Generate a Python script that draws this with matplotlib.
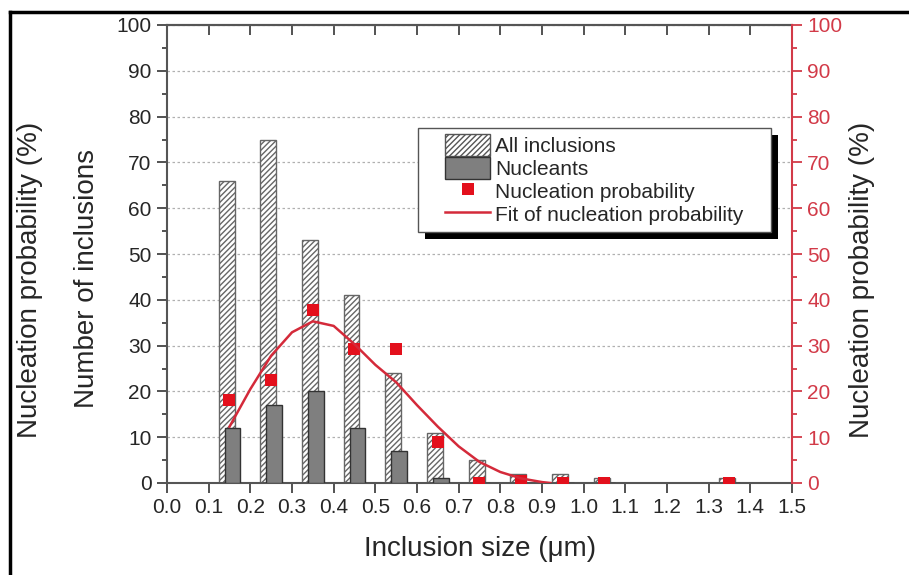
import numpy as np
import matplotlib
matplotlib.use("Agg")
import matplotlib.pyplot as plt
from matplotlib.patches import Patch, Rectangle
from matplotlib.lines import Line2D

plt.rcParams['font.family'] = ['Liberation Sans', 'DejaVu Sans']

# data
sizes = [0.15, 0.25, 0.35, 0.45, 0.55, 0.65, 0.75, 0.85, 0.95, 1.05, 1.35]
all_inclusions = [66, 75, 53, 41, 24, 11, 5, 2, 2, 1, 1]
nucleants = [12, 17, 20, 12, 7, 1, 0, 0, 0, 0, 0]
nucl_prob = [18.2, 22.5, 37.8, 29.3, 29.3, 9.0, 0, 0.5, 0, 0, 0]

fit_x = [0.15, 0.20, 0.25, 0.30, 0.35, 0.40, 0.45, 0.50, 0.55, 0.60,
         0.65, 0.70, 0.75, 0.80, 0.85, 0.90, 0.92]
fit_y = [12.3, 20.5, 27.8, 32.9, 35.3, 34.3, 30.3, 25.8, 22.0, 17.0,
         12.3, 8.0, 4.6, 2.4, 1.0, 0.2, 0.0]

red = '#e3101c'
axred = '#d23a48'
fitred = '#d42a3a'
txt = '#262626'

W, H = 909, 575
fig = plt.figure(figsize=(W / 100, H / 100), dpi=100)
ax = fig.add_axes([167 / W, 92 / H, 625 / W, 458 / H])

x = np.array(sizes)
w = 0.038
ax.bar(x - 0.007, all_inclusions, width=w, color='white', edgecolor='#666666',
       hatch='//////', linewidth=1.0, zorder=2)
ax.bar(x + 0.007, nucleants, width=w, color='#7f7f7f', edgecolor='#333333',
       linewidth=1.0, zorder=3)

ax.set_xlim(0, 1.5)
ax.set_ylim(0, 100)
xt = np.arange(0, 1.51, 0.1)
ax.set_xticks(xt)
ax.set_xticklabels(['%.1f' % v for v in xt])
ax.set_yticks(np.arange(0, 101, 10))
ax.set_yticks(np.arange(5, 100, 10), minor=True)
ax.tick_params(axis='both', which='major', direction='out', length=7, width=1.3,
               labelsize=15, color='#444444', labelcolor=txt, pad=4)
ax.tick_params(axis='y', which='minor', direction='out', length=3.5, width=1.3,
               color='#444444')
ax.yaxis.grid(True, linestyle=(0, (2, 2)), color='#b0b0b0', linewidth=0.9)
ax.set_axisbelow(True)
for s in ['left', 'bottom', 'top']:
    ax.spines[s].set_color('#555555')
    ax.spines[s].set_linewidth(1.5)
ax.spines['right'].set_visible(False)

top = ax.secondary_xaxis('top')
top.set_xticks(xt)
top.tick_params(direction='in', length=7, width=1.3, labeltop=False, color='#444444')
top.spines['top'].set_color('#555555')
top.spines['top'].set_linewidth(1.5)

ax2 = ax.twinx()
ax2.set_ylim(0, 100)
ax2.set_yticks(np.arange(0, 101, 10))
ax2.set_yticks(np.arange(5, 100, 10), minor=True)
ax2.tick_params(axis='y', which='major', direction='out', length=7, width=1.3,
                colors=axred, labelsize=15, pad=4)
ax2.tick_params(axis='y', which='minor', direction='out', length=3.5, width=1.3,
                color=axred)
ax2.spines['right'].set_color(axred)
ax2.spines['right'].set_linewidth(1.5)
for s in ['left', 'bottom', 'top']:
    ax2.spines[s].set_visible(False)

ax2.plot(x, nucl_prob, 's', color=red, markersize=9, markeredgewidth=0, zorder=4)
ax2.plot(fit_x, fit_y, '-', color=fitred, linewidth=1.8, zorder=5)

# axis titles
fig.text(480 / W, 1 - 549 / H, 'Inclusion size (\u03bcm)', fontsize=20,
         ha='center', va='center', color=txt)
fig.text(87 / W, 1 - 279 / H, 'Number of inclusions', fontsize=20, rotation=90,
         ha='center', va='center', color=txt)
fig.text(30 / W, 1 - 280 / H, 'Nucleation probability (%)', fontsize=20,
         rotation=90, ha='center', va='center', color=txt)
fig.text(862 / W, 1 - 280 / H, 'Nucleation probability (%)', fontsize=20,
         rotation=90, ha='center', va='center', color=txt)

handles = [Patch(facecolor='white', edgecolor='#555555', hatch='//////', linewidth=1.0),
           Patch(facecolor='#7f7f7f', edgecolor='#333333', linewidth=1.0),
           Line2D([], [], marker='s', linestyle='none', color=red,
                  markersize=8, markeredgewidth=0),
           Line2D([], [], color=fitred, linewidth=1.8)]
labels = ['All inclusions', 'Nucleants', 'Nucleation probability',
          'Fit of nucleation probability']
leg = ax2.legend(handles, labels, loc='upper left',
                 bbox_to_anchor=((439 - 167) / 625, (483 - 128) / 458),
                 fontsize=15, frameon=False, handlelength=2.15, handleheight=1.25,
                 labelspacing=0.05, handletextpad=0.25, borderpad=0.3,
                 borderaxespad=0)
for t in leg.get_texts():
    t.set_color(txt)

# legend frame with wider side margins and black drop shadow
fig.canvas.draw()
bb = leg.get_window_extent()
pad = 21
x0, y0 = (bb.x0 - pad) / W, bb.y0 / H
fw, fh = (bb.width + 2 * pad) / W, bb.height / H
fig.add_artist(Rectangle((x0 + 7 / W, y0 - 7 / H), fw, fh, transform=fig.transFigure,
                         facecolor='black', edgecolor='none', zorder=0.5))
fig.add_artist(Rectangle((x0, y0), fw, fh, transform=fig.transFigure,
                         facecolor='white', edgecolor='#555555', linewidth=1.0,
                         zorder=0.6))
ax2.set_zorder(1)

# outer frame lines (left and top)
fig.add_artist(Line2D([10 / W, 10 / W], [0, 1 - 12 / H], color='black',
                      linewidth=2.5, transform=fig.transFigure))
fig.add_artist(Line2D([10 / W, 1], [1 - 12 / H, 1 - 12 / H], color='black',
                      linewidth=2.5, transform=fig.transFigure))

fig.savefig('out.png', dpi=100)
